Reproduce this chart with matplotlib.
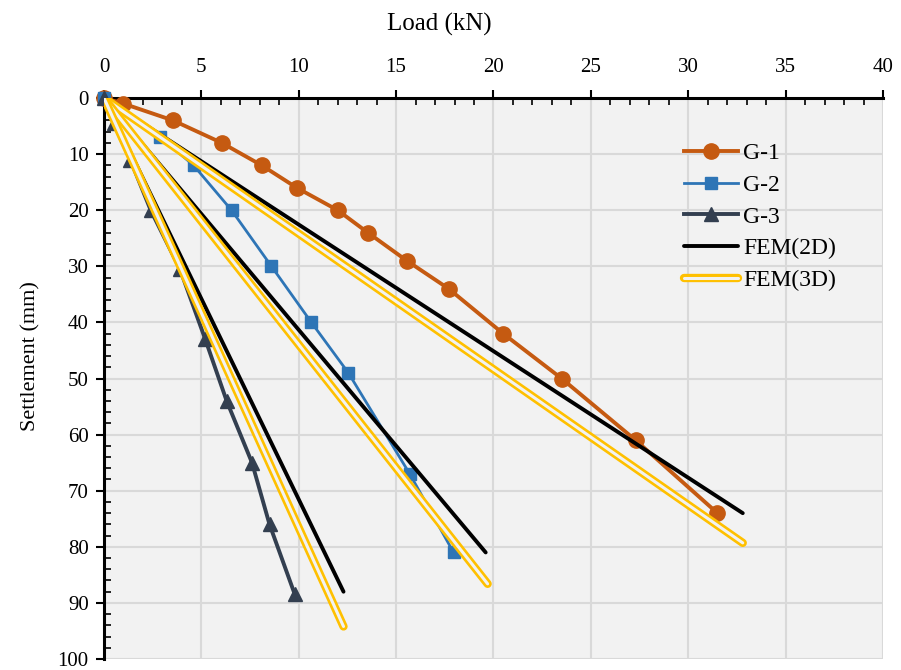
import matplotlib
matplotlib.use("Agg")
import matplotlib.pyplot as plt
import matplotlib.patheffects as pe
from matplotlib.ticker import MultipleLocator

plt.rcParams['font.family'] = ['Liberation Serif', 'DejaVu Serif']

# Measured load-settlement curves
g1_load = [0, 1.0, 3.55, 6.05, 8.1, 9.9, 12.0, 13.55, 15.55, 17.7, 20.5, 23.5, 27.3, 31.5]
g1_settle = [0, 1, 4, 8, 12, 16, 20, 24, 29, 34, 42, 50, 61, 74]

g2_load = [0, 2.9, 4.6, 6.55, 8.6, 10.65, 12.55, 15.7, 17.95]
g2_settle = [0, 7, 12, 20, 30, 40, 49, 67, 81]

g3_load = [0, 0.5, 1.35, 2.4, 3.9, 5.2, 6.3, 7.6, 8.5, 9.8]
g3_settle = [0, 4.5, 11, 20, 30.5, 43, 54, 65, 76, 88.5]

# Numerical predictions (start and end of each straight response)
fem2d_load = [[0, 32.8], [0, 19.6], [0, 12.3]]
fem2d_settle = [[0, 74], [0, 81], [0, 88]]
fem3d_load = [[0, 32.8], [0, 19.7], [0, 12.3]]
fem3d_settle = [[0, 79.3], [0, 86.6], [0, 94.2]]

x_ticks = [0, 5, 10, 15, 20, 25, 30, 35, 40]
y_ticks = [0, 10, 20, 30, 40, 50, 60, 70, 80, 90, 100]

fig = plt.figure(figsize=(9.01, 6.70), dpi=100)
ax = fig.add_axes([0.1154, 0.0164, 0.8646, 0.8373])
ax.set_facecolor('#f2f2f2')

ax.plot(g1_load, g1_settle, color='#c55a11', lw=2.8, marker='o', ms=11,
        label='G-1', zorder=3, clip_on=False)
ax.plot(g2_load, g2_settle, color='#2e75b6', lw=2.0, marker='s', ms=9,
        label='G-2', zorder=3, clip_on=False)
ax.plot(g3_load, g3_settle, color='#333f50', lw=2.8, marker='^', ms=10.5,
        label='G-3', zorder=3, clip_on=False)

for i, (xs, ys) in enumerate(zip(fem2d_load, fem2d_settle)):
    ax.plot(xs, ys, color='black', lw=2.8, solid_capstyle='round',
            label='FEM(2D)' if i == 0 else None, zorder=4)

outline = [pe.Stroke(linewidth=6.0, foreground='#ffc000', capstyle='round'), pe.Normal()]
for i, (xs, ys) in enumerate(zip(fem3d_load, fem3d_settle)):
    ax.plot(xs, ys, color='#f2f2f2', lw=2.2, solid_capstyle='round',
            path_effects=outline, label='FEM(3D)' if i == 0 else None, zorder=5)

ax.set_xlim(0, 40)
ax.set_ylim(100, 0)
ax.xaxis.set_ticks_position('top')
ax.xaxis.set_label_position('top')
ax.set_xticks(x_ticks)
ax.set_yticks(y_ticks)
ax.xaxis.set_minor_locator(MultipleLocator(1))
ax.yaxis.set_minor_locator(MultipleLocator(2))
ax.tick_params(axis='both', which='major', direction='out', length=6, width=1.5,
               labelsize=15, colors='black')
ax.tick_params(axis='x', which='major', pad=9)
ax.tick_params(axis='y', which='major', pad=5)
ax.tick_params(axis='both', which='minor', direction='in', length=5, width=1.2)
ax.grid(True, which='major', color='#d9d9d9', lw=1.5)
ax.set_axisbelow(True)

for side in ['right', 'bottom']:
    ax.spines[side].set_visible(False)
for side in ['left', 'top']:
    ax.spines[side].set_linewidth(2.2)
    ax.spines[side].set_color('black')

ax.set_xlabel('Load (kN)', fontsize=18)
ax.xaxis.set_label_coords(0.431, 1.121)
ax.set_ylabel('Settlement (mm)', fontsize=16)
ax.yaxis.set_label_coords(-0.082, 0.54)

ax.legend(loc='upper left', bbox_to_anchor=(0.759, 0.787), bbox_transform=fig.transFigure,
          frameon=False, fontsize=17, handlelength=2.3, handletextpad=0.2,
          labelspacing=0.43, borderaxespad=0, borderpad=0)

fig.savefig('out.png', dpi=100, facecolor='white')
